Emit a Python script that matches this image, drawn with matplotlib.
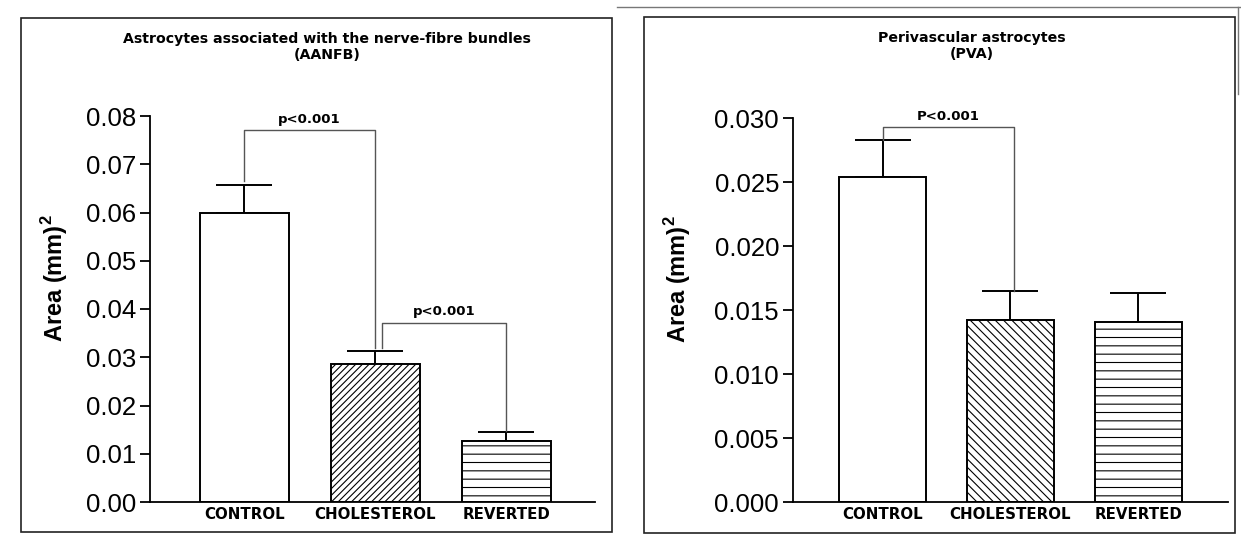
import matplotlib
matplotlib.use('Agg')
import matplotlib.pyplot as plt
from matplotlib.patches import Rectangle
from matplotlib.lines import Line2D
import numpy as np

plt.rcParams['font.family'] = ['Liberation Sans', 'DejaVu Sans']
plt.rcParams['hatch.linewidth'] = 0.8
plt.rcParams['mathtext.fontset'] = 'custom'
plt.rcParams['mathtext.bf'] = 'Liberation Sans:bold'
plt.rcParams['mathtext.rm'] = 'Liberation Sans'

# data
groups = ['CONTROL', 'CHOLESTEROL', 'REVERTED']
aanfb_mean = [0.0600, 0.0285, 0.0127]
aanfb_err = [0.0056, 0.0028, 0.0018]
pva_mean = [0.0254, 0.01425, 0.0141]
pva_err = [0.0029, 0.00225, 0.0022]
aanfb_ticks = [0.00, 0.01, 0.02, 0.03, 0.04, 0.05, 0.06, 0.07, 0.08]
pva_ticks = [0.000, 0.005, 0.010, 0.015, 0.020, 0.025, 0.030]
# brackets: (left group, right group, top, left leg end, right leg end, label)
aanfb_brackets = [(0, 1, 0.0771, 0.0665, 0.0319, 'p<0.001'),
                  (1.05, 2, 0.0372, 0.0319, 0.0147, 'p<0.001')]
pva_brackets = [(0, 1.03, 0.0293, 0.0283, 0.0165, 'P<0.001')]

fig = plt.figure(figsize=(12.41, 5.36), dpi=100)
W, H = 1241, 536
bold_font = ['DejaVu Sans']

def px_axes(x0, x1, ytop, ybot):
    return fig.add_axes([x0 / W, 1 - ybot / H, (x1 - x0) / W, (ybot - ytop) / H])

def draw_panel(ax, means, errs, ticks, fmt, hatches, brackets, xlim, labelx):
    x = np.arange(len(groups))
    ax.bar(x, means, width=0.68, color='white', edgecolor='black',
           linewidth=1.4, hatch=hatches, zorder=2)
    ax.errorbar(x, means, yerr=[np.zeros(len(errs)), errs], fmt='none',
                ecolor='black', elinewidth=1.4, capsize=20, capthick=1.4, zorder=1)
    ax.set_xlim(*xlim)
    ax.set_ylim(ticks[0], ticks[-1])
    ax.set_yticks(ticks)
    ax.set_yticklabels([fmt.format(t) for t in ticks], fontsize=18.5)
    ax.set_xticks(x)
    ax.set_xticklabels(groups, fontsize=10.8, fontweight='bold', family=bold_font)
    ax.tick_params(axis='x', length=0, pad=3.5)
    ax.tick_params(axis='y', length=7, width=1.3, pad=3, direction='out')
    for s in ['top', 'right']:
        ax.spines[s].set_visible(False)
    for s in ['left', 'bottom']:
        ax.spines[s].set_linewidth(1.3)
    ax.set_ylabel(r'Area (mm)$^{\mathbf{2}}$', fontsize=17, fontweight='bold')
    ax.yaxis.set_label_coords(labelx, 0.58)
    for i, j, top, yl, yr, lab in brackets:
        ax.plot([i, i, j, j], [yl, top, top, yr], color='#555555', lw=1.0, zorder=3)
        ax.annotate(lab, xy=((i + j) / 2, top), xytext=(0, 3), textcoords='offset points',
                    ha='center', va='bottom', fontsize=9.5, fontweight='bold',
                    family=bold_font)

ax1 = px_axes(150, 595, 116, 502)
draw_panel(ax1, aanfb_mean, aanfb_err, aanfb_ticks, '{:.2f}',
           ['', '/////', '--'], aanfb_brackets, (-0.72, 2.68), -0.18)

ax2 = px_axes(793, 1228, 118, 502)
draw_panel(ax2, pva_mean, pva_err, pva_ticks, '{:.3f}',
           ['', '\\\\\\\\', '--'], pva_brackets, (-0.70, 2.70), -0.23)

fig.text(327 / W, 1 - 47 / H, 'Astrocytes associated with the nerve-fibre bundles\n(AANFB)',
         ha='center', va='center', fontsize=10.2, fontweight='bold', linespacing=1.25,
         family=bold_font)
fig.text(972 / W, 1 - 46 / H, 'Perivascular astrocytes\n(PVA)',
         ha='center', va='center', fontsize=10.2, fontweight='bold', linespacing=1.25,
         family=bold_font)

# panel frames
fig.patches.append(Rectangle((21 / W, 1 - 532 / H), 591 / W, 514 / H, transform=fig.transFigure,
                             fill=False, edgecolor='#222222', lw=1.2))
fig.patches.append(Rectangle((644 / W, 1 - 533 / H), 591 / W, 516 / H, transform=fig.transFigure,
                             fill=False, edgecolor='#222222', lw=1.2))
fig.lines.append(Line2D([617 / W, 1], [1 - 7 / H, 1 - 7 / H], transform=fig.transFigure,
                        color='#777777', lw=1.0))
fig.lines.append(Line2D([1238 / W, 1238 / W], [1 - 7 / H, 1 - 94 / H], transform=fig.transFigure,
                        color='#777777', lw=1.0))

fig.savefig('out.png', dpi=100)
